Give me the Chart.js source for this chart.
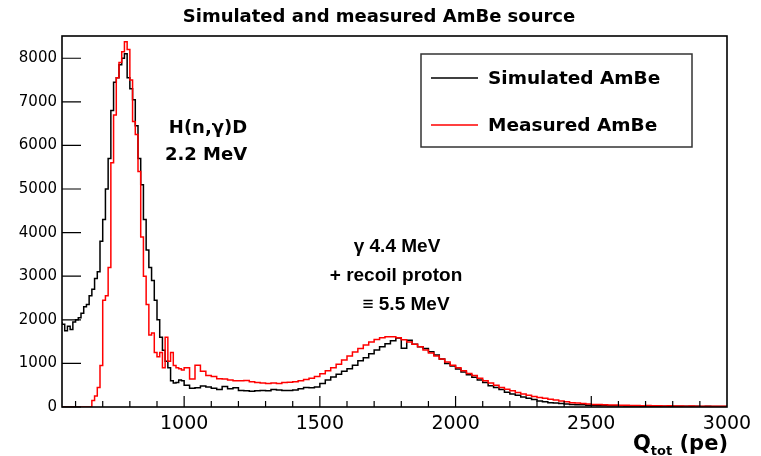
<!DOCTYPE html>
<html>
<head>
<meta charset="utf-8">
<script src="https://cdn.jsdelivr.net/npm/chart.js@4.4.1/dist/chart.umd.min.js"></script>
<style>
  html, body { margin: 0; background: #fff; }
  #wrap { width: 761px; height: 456px; }
</style>
</head>
<body>
<div id="wrap"><canvas id="chart"></canvas></div>
<script>
// DATA
const chartTitle = "Simulated and measured AmBe source";
const seriesNames = ["Simulated AmBe", "Measured AmBe"];

// fine bins (width 10) from 550 to 1000
const fineStart = 550, fineWidth = 10;
const simFine = [1950,1900,1750,1850,1780,1950,2000,2050,2150,2300,2350,2550,2700,2950,3100,
                 3800,4300,5000,5700,6800,7450,7550,7850,8000,8100,7550,7300,7050,6450,5700,
                 5100,4300,3600,3200,2900,2450,2000,1600,1300,1050,900,600,550,560,620];
const measFine = [0,0,0,0,0,0,0,0,0,0,0,0,150,250,450,
                  950,2450,2550,3200,5600,6700,7550,7900,8150,8380,8200,7500,6550,6250,5400,
                  3900,3000,2350,1650,1700,1250,1150,1250,900,1600,1050,1250,950,900,880];

// coarse bins (width 20) from 1000 to 3000
const coarseStart = 1000, coarseWidth = 20;
const simCoarse = [600,500,430,440,480,460,430,400,470,420,
                   440,380,370,360,370,380,370,400,390,380,
                   380,390,420,450,440,460,540,620,690,750,
                   820,880,960,1060,1130,1220,1310,1380,1450,1520,
                   1580,1350,1530,1440,1380,1340,1270,1190,1100,1000,
                   940,870,800,740,680,620,560,490,450,400,
                   340,300,270,230,200,170,140,120,100,90,
                   80,70,60,50,50,40,40,35,35,30,
                   30,30,25,25,25,20,25,20,20,20,
                   15,20,15,15,15,15,10,15,10,10];
const measCoarse = [850,900,640,960,820,720,700,650,640,620,
                    600,600,610,580,560,550,540,550,540,560,
                    570,580,600,630,660,700,760,830,900,980,
                    1080,1170,1260,1340,1420,1490,1550,1590,1610,1610,
                    1590,1540,1490,1440,1380,1310,1240,1170,1100,1030,
                    960,900,830,770,720,660,600,550,500,450,
                    410,370,330,300,270,240,220,200,180,160,
                    140,120,100,90,80,70,60,55,50,45,
                    45,40,40,35,35,30,35,30,30,25,
                    30,25,25,20,25,20,20,20,20,15];

const xTickLabels = [1000, 1500, 2000, 2500, 3000];
const yTickLabels = [0, 1000, 2000, 3000, 4000, 5000, 6000, 7000, 8000];

// histogram -> step points (bin start, value) + closing edge
function histPoints(fine, coarse) {
    const pts = [];
    fine.forEach((v, i) => pts.push({ x: fineStart + i * fineWidth, y: v }));
    coarse.forEach((v, i) => pts.push({ x: coarseStart + i * coarseWidth, y: v }));
    pts.push({ x: coarseStart + coarse.length * coarseWidth, y: coarse[coarse.length - 1] });
    return pts;
}

const FONT = "DejaVu Sans";
const HELV = "Liberation Sans";

// FRAME + INWARD TICKS (ROOT style)
const framePlugin = {
    id: "frame",
    afterDatasetsDraw(chart) {
        const { ctx, chartArea: a, scales: { x, y } } = chart;
        ctx.save();
        ctx.strokeStyle = "#000";
        ctx.lineWidth = 1.2;
        ctx.beginPath();
        for (let v = 600; v < 3000; v += 100) {
            const px = x.getPixelForValue(v);
            const len = v % 500 === 0 ? 11 : 6;
            ctx.moveTo(px, a.bottom);
            ctx.lineTo(px, a.bottom - len);
        }
        yTickLabels.forEach(v => {
            const py = y.getPixelForValue(v);
            ctx.moveTo(a.left, py);
            ctx.lineTo(a.left + 19, py);
        });
        ctx.stroke();
        ctx.lineWidth = 1.6;
        ctx.strokeRect(a.left, a.top, a.right - a.left, a.bottom - a.top);
        ctx.restore();
    }
};

// LEGEND BOX
const legendPlugin = {
    id: "rootLegend",
    afterDraw(chart) {
        const ctx = chart.ctx;
        ctx.save();
        ctx.fillStyle = "#fff";
        ctx.fillRect(421, 54, 271, 93);
        ctx.strokeStyle = "#333";
        ctx.lineWidth = 1.5;
        ctx.strokeRect(421, 54, 271, 93);
        const rows = [78, 125];
        chart.data.datasets.forEach((ds, i) => {
            ctx.strokeStyle = ds.borderColor;
            ctx.lineWidth = 1.6;
            ctx.beginPath();
            ctx.moveTo(431, rows[i]);
            ctx.lineTo(478, rows[i]);
            ctx.stroke();
            ctx.fillStyle = "#000";
            ctx.font = "bold 18.5px " + FONT;
            ctx.textBaseline = "middle";
            ctx.fillText(ds.label, 488, rows[i] + 1);
        });
        ctx.restore();
    }
};

// TEXT LABELS
const notesPlugin = {
    id: "notes",
    afterDraw(chart) {
        const ctx = chart.ctx;
        ctx.save();
        ctx.fillStyle = "#000";
        ctx.textAlign = "center";
        ctx.textBaseline = "middle";
        ctx.font = "bold 18px " + FONT;
        ctx.fillText(chartTitle, 379, 17);
        ctx.fillText("H(n,γ)D", 208, 128);
        ctx.fillText("2.2 MeV", 206, 155);
        ctx.font = "bold 19px " + HELV;
        ctx.fillText("γ 4.4 MeV", 397, 247);
        ctx.fillText("+ recoil proton", 396, 276);
        ctx.fillText("≡ 5.5 MeV", 406, 305);
        // axis title Q_tot (pe)
        ctx.textAlign = "left";
        ctx.textBaseline = "alphabetic";
        ctx.font = "bold 21px " + FONT;
        ctx.fillText("Q", 633, 450);
        const w = ctx.measureText("Q").width;
        ctx.font = "bold 13px " + FONT;
        ctx.fillText("tot", 633 + w, 455);
        const w2 = ctx.measureText("tot").width;
        ctx.font = "bold 21px " + FONT;
        ctx.fillText(" (pe)", 633 + w + w2, 450);
        ctx.restore();
    }
};

new Chart(document.getElementById("chart"), {
    type: "line",
    data: {
        datasets: [
            {
                label: seriesNames[0],
                data: histPoints(simFine, simCoarse),
                borderColor: "#000000",
                borderWidth: 1.5,
                stepped: "after",
                pointRadius: 0,
                fill: false,
                order: 2
            },
            {
                label: seriesNames[1],
                data: histPoints(measFine, measCoarse),
                borderColor: "#ff0000",
                borderWidth: 1.5,
                stepped: "after",
                pointRadius: 0,
                fill: false,
                order: 1
            }
        ]
    },
    options: {
        responsive: true,
        maintainAspectRatio: false,
        animation: false,
        devicePixelRatio: 1,
        layout: { padding: { top: 36, right: 34, bottom: 0, left: 0 } },
        plugins: {
            legend: { display: false },
            tooltip: { enabled: false },
            title: { display: false }
        },
        scales: {
            x: {
                type: "linear",
                min: 550,
                max: 3000,
                grid: { display: false, drawTicks: false },
                border: { display: false },
                ticks: {
                    color: "#000",
                    font: { family: FONT, size: 19 },
                    padding: 6,
                    maxRotation: 0,
                    autoSkip: false,
                    callback: v => String(v)
                },
                afterBuildTicks: s => { s.ticks = xTickLabels.map(v => ({ value: v })); },
                afterFit: s => { s.height = 49; }
            },
            y: {
                type: "linear",
                min: 0,
                max: 8510,
                grid: { display: false, drawTicks: false },
                border: { display: false },
                ticks: {
                    color: "#000",
                    font: { family: FONT, size: 15 },
                    padding: 5,
                    callback: v => String(v)
                },
                afterBuildTicks: s => { s.ticks = yTickLabels.map(v => ({ value: v })); },
                afterFit: s => { s.width = 62; }
            }
        }
    },
    plugins: [framePlugin, legendPlugin, notesPlugin]
});
</script>
</body>
</html>
